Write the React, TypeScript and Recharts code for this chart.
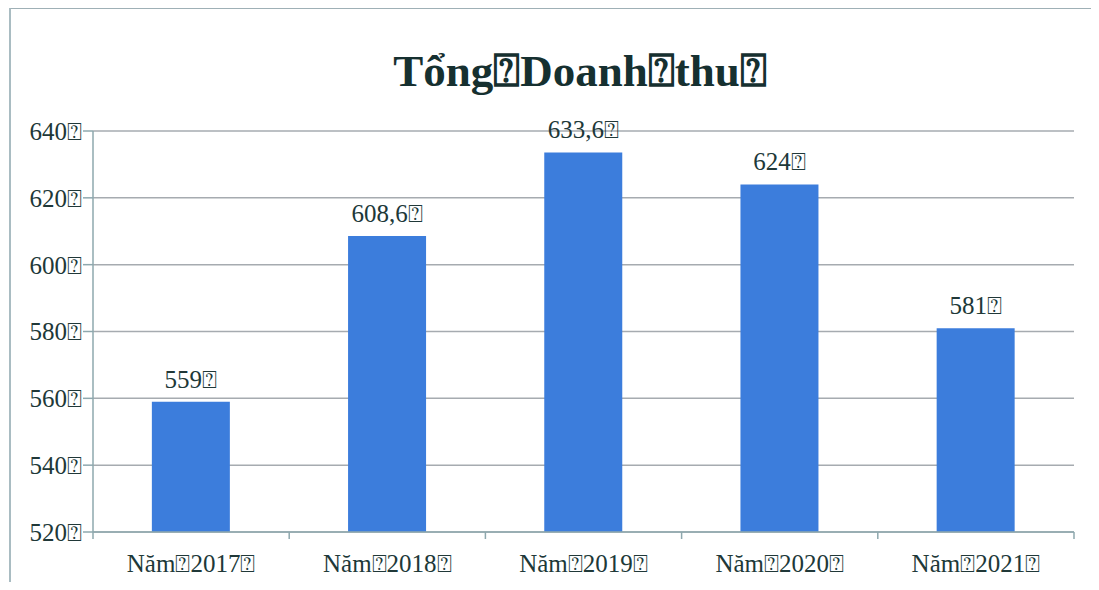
import React from "react";
import { BarChart, Bar, XAxis, YAxis, CartesianGrid, LabelList } from "recharts";

const categories = ["Năm⍰2017⍰", "Năm⍰2018⍰", "Năm⍰2019⍰", "Năm⍰2020⍰", "Năm⍰2021⍰"];
const values = [559, 608.6, 633.6, 624, 581];
const valueLabels = ["559⍰", "608,6⍰", "633,6⍰", "624⍰", "581⍰"];
const yTicks = [520, 540, 560, 580, 600, 620, 640];
const title = "Tổng⍰Doanh⍰thu⍰";

const data = categories.map((c, i) => ({ name: c, value: values[i], label: valueLabels[i] }));

const FONT = "'Liberation Serif', 'DejaVu Serif', serif";
const TEXT = "#203838";
const AXIS = "#8ea8ae";
const GRID = "#a6abb0";
const TICK_SIZE = 6;
const TICK_MARGIN = 15;

const CatTick = (props: any) => {
  const { x, y, payload, index } = props;
  const half = payload && payload.offset ? payload.offset : 0;
  const baseY = y - TICK_SIZE - TICK_MARGIN;
  return (
    <g>
      <line x1={x - half} x2={x - half} y1={baseY} y2={baseY + 7} stroke={AXIS} strokeWidth={1.5} />
      {index === categories.length - 1 && (
        <line x1={x + half} x2={x + half} y1={baseY} y2={baseY + 7} stroke={AXIS} strokeWidth={1.5} />
      )}
      <text x={x} y={y + 19} textAnchor="middle" fill={TEXT} fontFamily={FONT} fontSize={25}>
        {payload.value}
      </text>
    </g>
  );
};

export default function App() {
  return (
    <div style={{ position: "relative", width: 1083, height: 574 }}>
      <div
        style={{
          position: "absolute",
          left: 1,
          top: -1,
          width: 1100,
          height: 600,
          borderTop: "2px solid #9fb0b6",
          borderLeft: "2px solid #a9bcc2",
        }}
      />
      <div
        style={{
          position: "absolute",
          left: -8,
          top: 38,
          width: 1160,
          textAlign: "center",
          fontFamily: FONT,
          fontWeight: "bold",
          fontSize: 45,
          color: "#163030",
          lineHeight: "50px",
        }}
      >
        {title}
      </div>
      <div style={{ position: "absolute", left: -8, top: -8 }}>
        <BarChart
          width={1099}
          height={590}
          data={data}
          margin={{ top: 131, right: 25, bottom: 18, left: 13 }}
          barCategoryGap="30%"
        >
          <CartesianGrid horizontal={true} vertical={false} stroke={GRID} strokeWidth={1.5} />
          <XAxis
            dataKey="name"
            height={40}
            axisLine={{ stroke: AXIS, strokeWidth: 1.5 }}
            tickLine={false}
            tick={<CatTick />}
            tickSize={TICK_SIZE}
            tickMargin={TICK_MARGIN}
            interval={0}
          />
          <YAxis
            width={80}
            domain={[520, 640]}
            ticks={yTicks}
            interval={0}
            axisLine={{ stroke: AXIS, strokeWidth: 1.5 }}
            tickLine={{ stroke: AXIS, strokeWidth: 1.5 }}
            tickSize={10}
            tickMargin={1}
            tick={{ fill: TEXT, fontFamily: FONT, fontSize: 25 }}
            tickFormatter={(v: number) => `${v}⍰`}
            allowDataOverflow
          />
          <Bar dataKey="value" fill="#3c7ddc" isAnimationActive={false}>
            <LabelList
              dataKey="label"
              position="top"
              offset={14}
              style={{ fill: TEXT, fontFamily: FONT, fontSize: 25 }}
            />
          </Bar>
        </BarChart>
      </div>
    </div>
  );
}
